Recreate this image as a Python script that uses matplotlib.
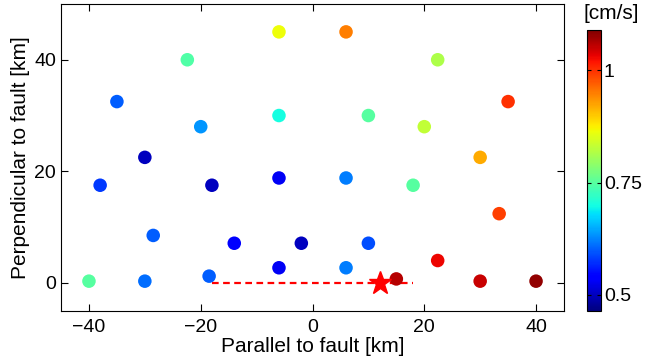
import matplotlib
matplotlib.use("Agg")
import matplotlib.pyplot as plt
import numpy as np

plt.rcParams["font.family"] = ["Liberation Sans", "DejaVu Sans"]

# station positions (km) and peak velocity (cm/s)
x_km = [-6, 6, -22.4, 22.4, -35, -20, -6, 10, 20, 35, 30, -30, -38, -18, -6, 6,
        18, 33.4, -28.5, -14, -2, 10, -18.5, -6, 6, -40, -30, 15, 22.4, 30, 40]
y_km = [45, 45, 40, 40, 32.5, 28, 30, 30, 28, 32.5, 22.5, 22.5, 17.5, 17.5, 18.8, 18.8,
        17.5, 12.4, 8.5, 7.1, 7.1, 7.1, 1.2, 2.7, 2.7, 0.3, 0.3, 0.7, 4.0, 0.3, 0.3]
pgv = [0.865, 0.95, 0.745, 0.815, 0.60, 0.635, 0.70, 0.75, 0.83, 1.00, 0.92, 0.50,
       0.578, 0.50, 0.53, 0.62, 0.75, 0.99, 0.60, 0.54, 0.50, 0.59, 0.60, 0.53, 0.62,
       0.75, 0.61, 1.06, 1.03, 1.05, 1.08]

fault_x = [-18, 18]
fault_y = [0, 0]
epicenter = (12, 0)

fig = plt.figure(figsize=(6.45, 3.64), dpi=100)
ax = fig.add_axes([0.0946, 0.1464, 0.7798, 0.8426])
cax = fig.add_axes([0.9096, 0.1464, 0.0222, 0.7712])

sc = ax.scatter(x_km, y_km, c=pgv, cmap="jet", vmin=0.465, vmax=1.09, s=95,
                edgecolors="none", zorder=3)
ax.plot(fault_x, fault_y, color="red", ls=(0, (3, 2)), lw=1.6, zorder=2)
ax.plot(*epicenter, marker="*", color="red", ms=17, mec="red", zorder=4)

ax.set_xlim(-45, 45)
ax.set_ylim(-5, 50)
ax.set_xticks([-40, -20, 0, 20, 40])
ax.set_yticks([0, 20, 40])
ax.set_xticklabels(["\u221240", "\u221220", "0", "20", "40"])
ax.tick_params(direction="in", top=True, right=True, labelsize=14, length=5)
ax.tick_params(axis="x", pad=6)
ax.set_xlabel("Parallel to fault [km]", fontsize=15, labelpad=1)
ax.set_ylabel("Perpendicular to fault [km]", fontsize=15, labelpad=3)

cb = fig.colorbar(sc, cax=cax)
cb.set_ticks([0.5, 0.75, 1.0])
cb.set_ticklabels(["0.5", "0.75", "1"])
cax.tick_params(direction="in", left=True, labelsize=14, length=3, pad=2)
cb.outline.set_linewidth(0.8)
# units label sits a little right of the bar's centre
cax.text(1.7, 1.025, "[cm/s]", transform=cax.transAxes, ha="center",
         va="bottom", fontsize=15)

fig.savefig("out.png", dpi=100)
